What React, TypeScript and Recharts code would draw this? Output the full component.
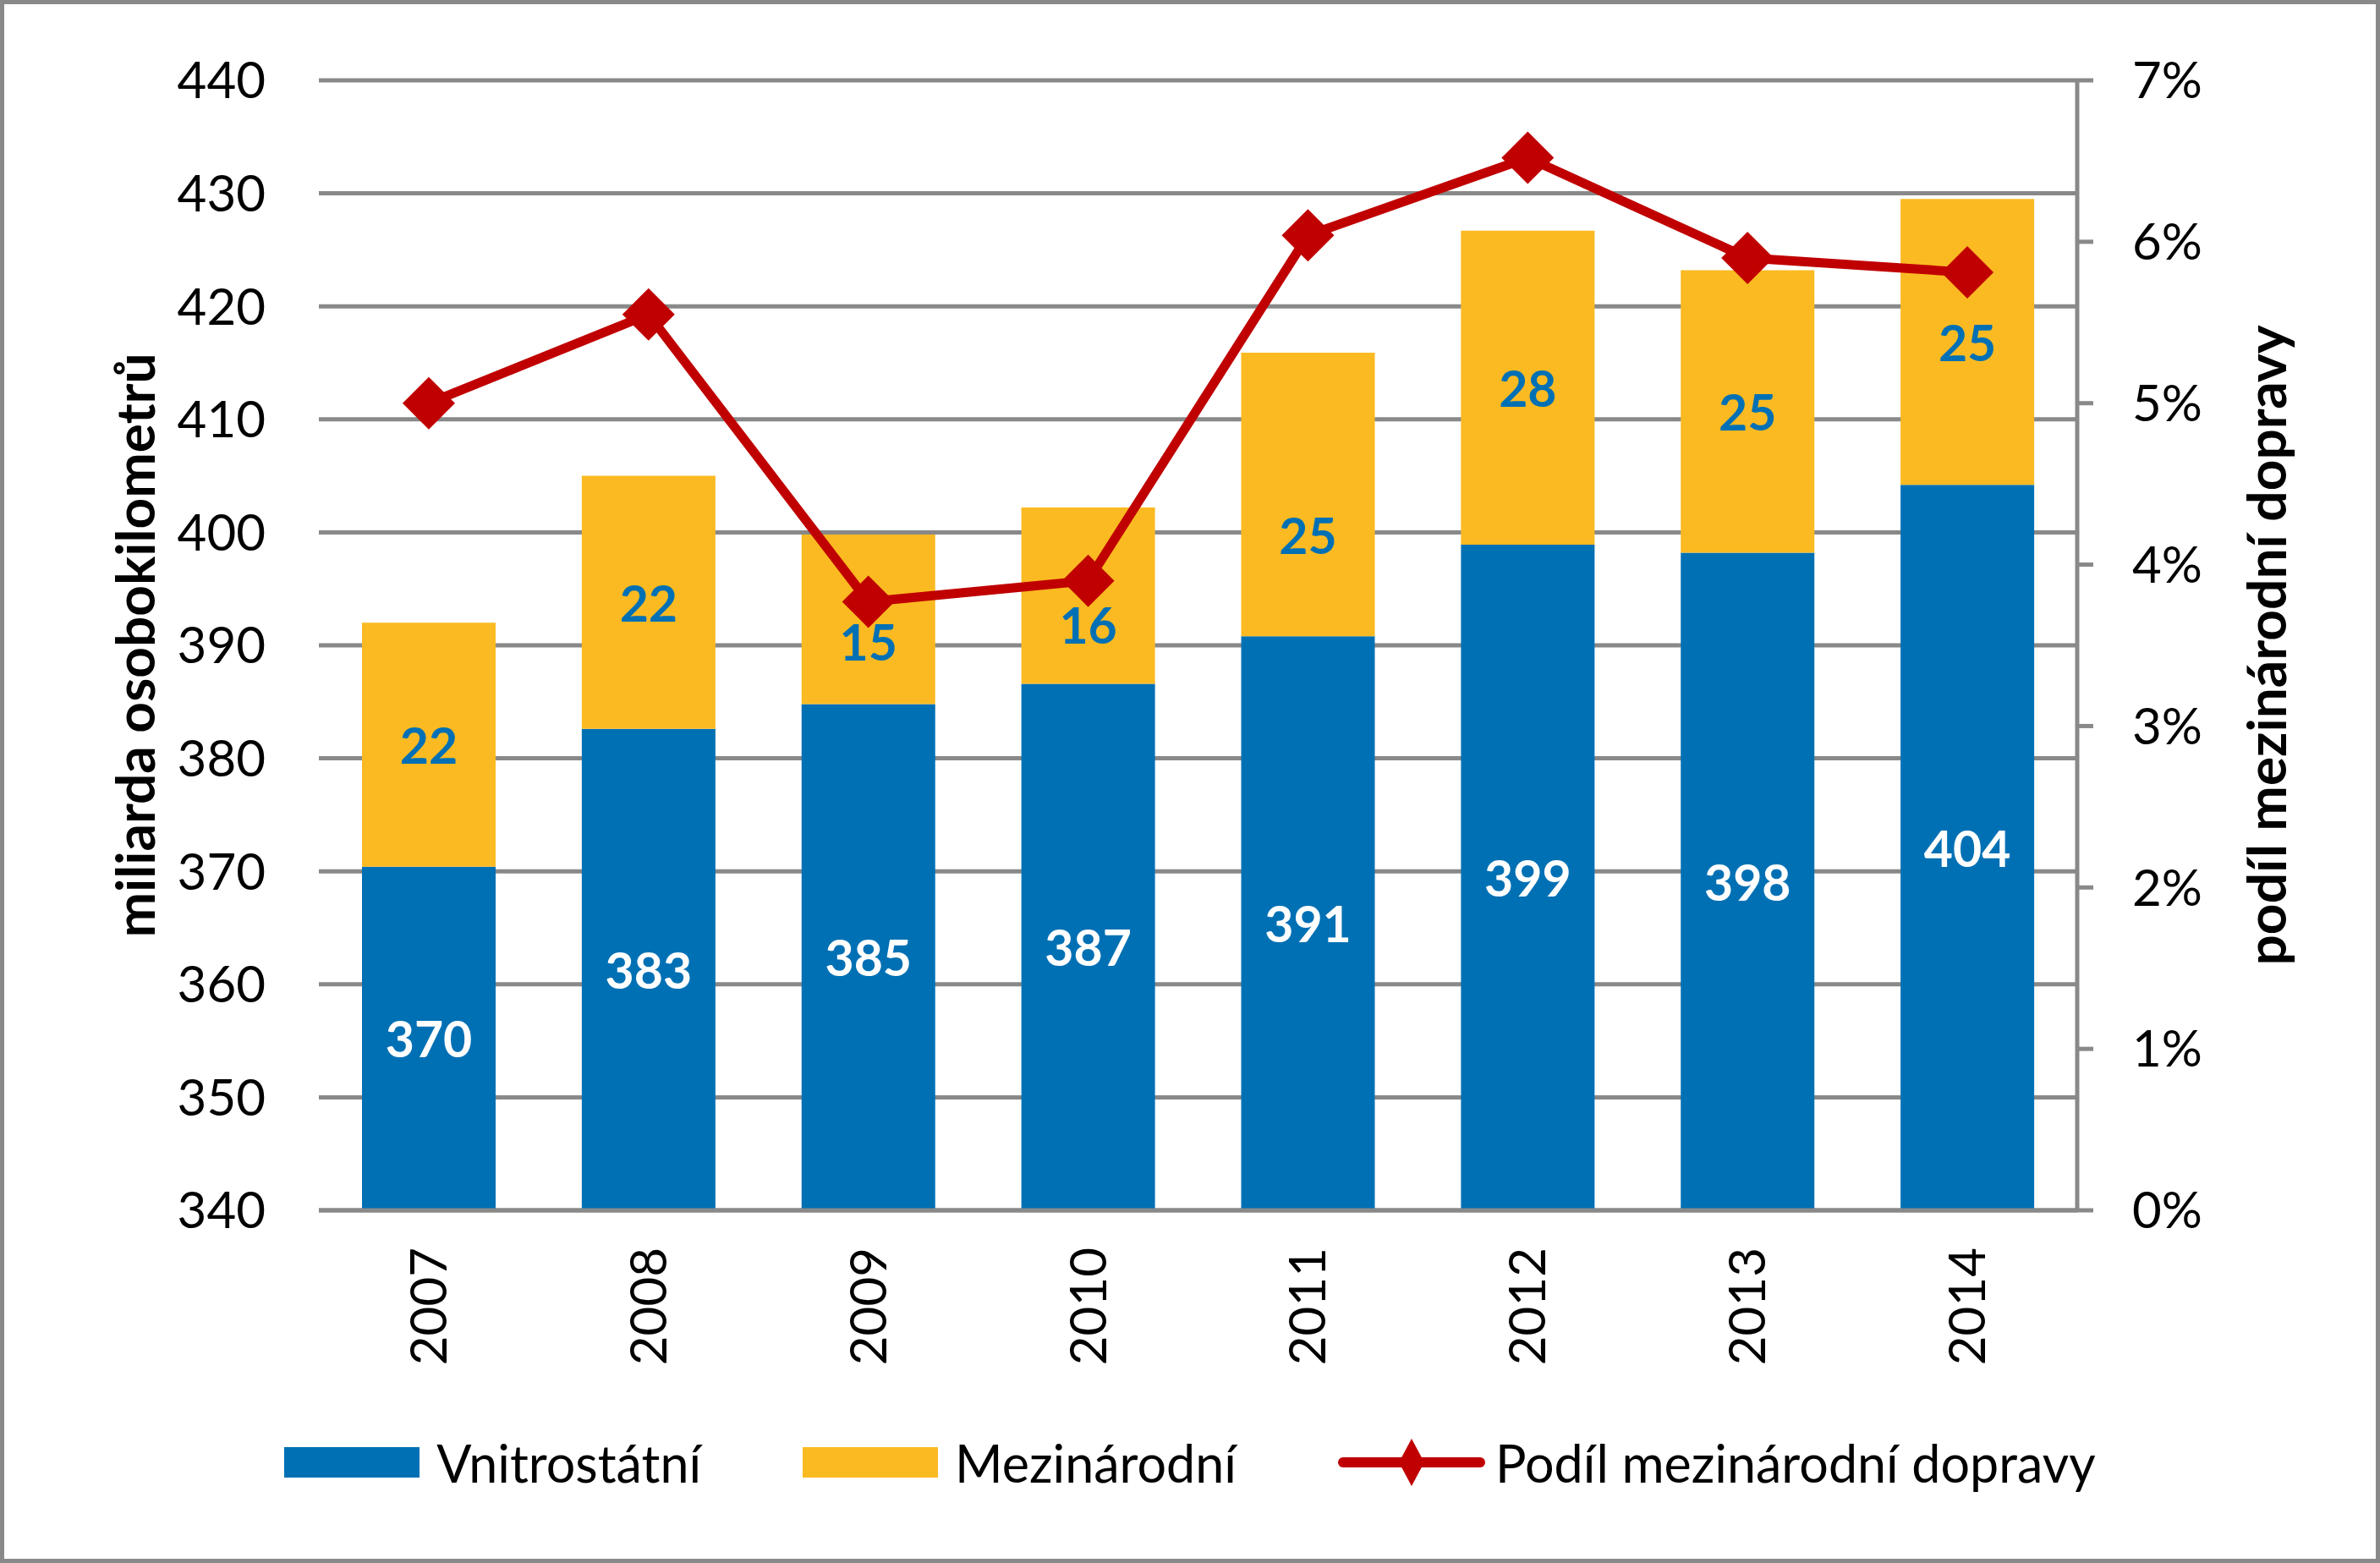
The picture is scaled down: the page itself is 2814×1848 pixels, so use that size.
import { Bar, CartesianGrid, ComposedChart, LabelList, Legend, Line, XAxis, YAxis } from "recharts";

const years = ["2007", "2008", "2009", "2010", "2011", "2012", "2013", "2014"];
const vnitrostatni = [370.4, 382.6, 384.8, 386.6, 390.8, 398.9, 398.2, 404.2];
const mezinarodni = [21.6, 22.4, 15.0, 15.6, 25.1, 27.8, 25.0, 25.3];
const podil = [0.05, 0.0555, 0.0377, 0.039, 0.0604, 0.0652, 0.059, 0.0581];

const leftTicks = [340, 350, 360, 370, 380, 390, 400, 410, 420, 430, 440];
const rightTicks = [0, 0.01, 0.02, 0.03, 0.04, 0.05, 0.06, 0.07];

// labels of the international part moved down where the line runs over them
const labelShift: Record<string, number> = { "2009": 26, "2010": 34, "2011": 48 };

const data = years.map((year, i) => ({
  year,
  vnitrostatni: vnitrostatni[i],
  mezinarodni: mezinarodni[i],
  podil: podil[i],
}));

const FONT = "Lato, 'Open Sans', sans-serif";
const BLUE = "#0070B4";
const YELLOW = "#FBBA22";
const RED = "#C00000";
const GREY = "#898989";

function Diamond({ cx, cy }: any) {
  if (cx == null || cy == null) return null;
  const r = 31;
  return <path d={`M${cx},${cy - r}L${cx + r},${cy}L${cx},${cy + r}L${cx - r},${cy}Z`} fill={RED} />;
}

function YearTick({ x, y, payload }: any) {
  return (
    <g transform={`translate(${x},${y})`}>
      <text transform="rotate(-90)" textAnchor="end" dy="0.35em" fontSize={60} fontFamily={FONT} fill="#000">
        {payload.value}
      </text>
    </g>
  );
}

function barLabel(color: string, shifted: boolean) {
  return (props: any) => {
    const { x, y, width, height, value, index } = props;
    const shift = shifted ? labelShift[years[index]] ?? 0 : 0;
    return (
      <text
        x={x + width / 2}
        y={y + height / 2 + shift}
        textAnchor="middle"
        dominantBaseline="central"
        fontSize={59}
        fontWeight="bold"
        fontFamily={FONT}
        fill={color}
      >
        {Math.round(value)}
      </text>
    );
  };
}

function axisTitle(text: string, dx: number) {
  return (props: any) => {
    const vb = props.viewBox ?? {};
    const cx = (vb.x ?? 0) + dx;
    const cy = (vb.y ?? 0) + (vb.height ?? 0) / 2;
    return (
      <text
        x={cx}
        y={cy}
        transform={`rotate(-90, ${cx}, ${cy})`}
        textAnchor="middle"
        dominantBaseline="central"
        fontSize={64}
        fontWeight="bold"
        fontFamily={FONT}
        fill="#000"
      >
        {text}
      </text>
    );
  };
}

function ChartLegend() {
  const item = { display: "flex", alignItems: "center" } as const;
  const label = { marginLeft: 20, fontSize: 61, fontFamily: FONT, color: "#000" };
  return (
    <div style={{ display: "flex", justifyContent: "center", alignItems: "center", gap: 120, height: 80 }}>
      <div style={item}>
        <div style={{ width: 160, height: 36, background: BLUE }} />
        <span style={label}>Vnitrostátní</span>
      </div>
      <div style={item}>
        <div style={{ width: 160, height: 36, background: YELLOW }} />
        <span style={label}>Mezinárodní</span>
      </div>
      <div style={item}>
        <svg width={174} height={64}>
          <line x1={6} y1={32} x2={168} y2={32} stroke={RED} strokeWidth={12} strokeLinecap="round" />
          <path d="M87,4L102,32L87,60L72,32Z" fill={RED} />
        </svg>
        <span style={{ ...label, marginLeft: 12 }}>Podíl mezinárodní dopravy</span>
      </div>
    </div>
  );
}

export default function App() {
  return (
    <div
      style={{
        position: "absolute",
        left: 0,
        top: 0,
        width: 2814,
        height: 1848,
        boxSizing: "border-box",
        border: `5px solid ${GREY}`,
        background: "#fff",
      }}
    >
      <ComposedChart width={2804} height={1838} data={data} margin={{ top: 90, right: 0, bottom: 0, left: 0 }}>
        <CartesianGrid vertical={false} stroke={GREY} strokeWidth={5} yAxisId="left" />
        <XAxis
          dataKey="year"
          height={412}
          tick={<YearTick />}
          tickLine={false}
          tickSize={0}
          tickMargin={44}
          axisLine={{ stroke: GREY, strokeWidth: 5 }}
          interval={0}
        />
        <YAxis
          yAxisId="left"
          width={372}
          domain={[340, 440]}
          ticks={leftTicks}
          allowDataOverflow
          axisLine={false}
          tickLine={false}
          tickSize={0}
          tickMargin={63}
          tick={{ fontSize: 60, fontFamily: FONT, fill: "#000" }}
          label={{ content: axisTitle("miliarda osobokilometrů", 153) }}
        />
        <YAxis
          yAxisId="right"
          orientation="right"
          width={353}
          domain={[0, 0.07]}
          ticks={rightTicks}
          axisLine={{ stroke: GREY, strokeWidth: 5 }}
          tickLine={{ stroke: GREY, strokeWidth: 5 }}
          tickSize={19}
          tickMargin={46}
          tickFormatter={(v: number) => `${Math.round(v * 100)}%`}
          tick={{ fontSize: 60, fontFamily: FONT, fill: "#000" }}
          label={{ content: axisTitle("podíl mezinárodní dopravy", 222) }}
        />
        <Legend
          layout="horizontal"
          verticalAlign="middle"
          align="center"
          wrapperStyle={{ top: 1684, left: 0, width: 2804 }}
          content={<ChartLegend />}
        />
        <Bar yAxisId="left" dataKey="vnitrostatni" stackId="a" fill={BLUE} barSize={158} isAnimationActive={false}>
          <LabelList dataKey="vnitrostatni" content={barLabel("#fff", false)} />
        </Bar>
        <Bar yAxisId="left" dataKey="mezinarodni" stackId="a" fill={YELLOW} barSize={158} isAnimationActive={false}>
          <LabelList dataKey="mezinarodni" content={barLabel(BLUE, true)} />
        </Bar>
        <Line
          yAxisId="right"
          dataKey="podil"
          stroke={RED}
          strokeWidth={11}
          strokeLinejoin="round"
          dot={<Diamond />}
          activeDot={false}
          isAnimationActive={false}
        />
      </ComposedChart>
    </div>
  );
}
